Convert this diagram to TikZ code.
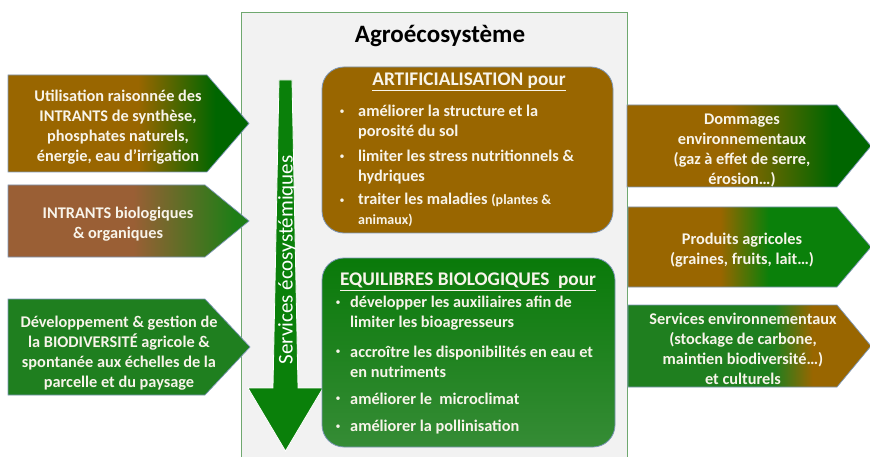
\documentclass[tikz,border=0pt]{standalone}
\usepackage{fontspec}
\setmainfont{Carlito}

\definecolor{brownA}{HTML}{996600}
\definecolor{siennaA}{HTML}{9A5F35}
\definecolor{greenD}{HTML}{006600}
\definecolor{greenM}{HTML}{0A800A}
\definecolor{greenL}{HTML}{1F7F1F}
\definecolor{greenT}{HTML}{1E7E16}
\definecolor{paleback}{HTML}{F2F2F2}
\definecolor{frameline}{HTML}{6FA86F}
\definecolor{edgeblue}{HTML}{7D97B8}
\definecolor{cream}{HTML}{F8F4EA}

% horizontal shadings: the path spans 25bp--75bp
\pgfdeclarehorizontalshading{inA}{100bp}{color(0bp)=(brownA); color(52bp)=(brownA); color(68bp)=(greenD); color(100bp)=(greenD)}
\pgfdeclarehorizontalshading{inB}{100bp}{color(0bp)=(siennaA); color(51bp)=(siennaA); color(72bp)=(greenT); color(100bp)=(greenT)}
\pgfdeclarehorizontalshading{outA}{100bp}{color(0bp)=(brownA); color(46bp)=(brownA); color(67bp)=(greenD); color(100bp)=(greenD)}
\pgfdeclarehorizontalshading{outB}{100bp}{color(0bp)=(brownA); color(44bp)=(brownA); color(54bp)=(greenM); color(100bp)=(greenM)}
\pgfdeclarehorizontalshading{outC}{100bp}{color(0bp)=(greenL); color(55bp)=(greenL); color(63bp)=(brownA); color(100bp)=(brownA)}

\begin{document}
\begin{tikzpicture}[x=1pt,y=-1pt,
  arrowedge/.style={draw=edgeblue,line width=0.7pt},
  boxtxt/.style={text=cream,font=\bfseries\fontsize{16.3}{20}\selectfont,align=center,inner sep=0pt},
  itemtxt/.style={text=cream,font=\bfseries\fontsize{16.3}{20}\selectfont,align=left,anchor=west,inner sep=0pt},
  dot/.style={text=cream,font=\fontsize{10}{10}\selectfont,inner sep=0pt},
  headtxt/.style={text=cream,font=\bfseries\fontsize{19.3}{22}\selectfont,inner sep=0pt}]
\useasboundingbox (0,0) rectangle (870,457);
\clip (0,0) rectangle (870,457);

% agroecosystem frame
\draw[frameline,fill=paleback,line width=0.9pt] (241,12) rectangle (627,470);
\node[font=\bfseries\fontsize{25}{28}\selectfont] (agro) at (440,36) {Agroécosystème};

% inputs
\shadedraw[arrowedge,shading=inA]
  (8,75) -- (207,75) -- (249,123.5) -- (207,172) -- (8,172) -- cycle;
\node[boxtxt] (in-synth) at (118,127)
  {Utilisation raisonnée des\\INTRANTS de synthèse,\\phosphates naturels,\\énergie, eau d’irrigation};
\shadedraw[arrowedge,shading=inB]
  (8,185) -- (205,185) -- (249,221) -- (205,257) -- (8,257) -- cycle;
\node[boxtxt] (in-bio) at (118,224) {INTRANTS biologiques\\\& organiques};
\draw[arrowedge,fill=greenL]
  (8,299) -- (205,299) -- (250,347) -- (205,395) -- (8,395) -- cycle;
\node[boxtxt] (in-biodiv) at (119,353)
  {Développement \& gestion de\\la BIODIVERSITÉ agricole \&\\spontanée aux échelles de la\\parcelle et du paysage};

% outputs
\shadedraw[arrowedge,shading=outA]
  (627,105) -- (837,105) -- (871,146) -- (837,187) -- (627,187) -- cycle;
\node[boxtxt] (out-dmg) at (742,150)
  {Dommages\\environnementaux\\(gaz à effet de serre,\\érosion…)};
\shadedraw[arrowedge,shading=outB]
  (628,207) -- (837,207) -- (871,247) -- (837,287) -- (628,287) -- cycle;
\node[boxtxt] (out-prod) at (742,250) {Produits agricoles\\(graines, fruits, lait…)};
\shadedraw[arrowedge,shading=outC]
  (628,305) -- (837,305) -- (871,346) -- (837,387) -- (628,387) -- cycle;
\node[boxtxt] (out-serv) at (743,349)
  {Services environnementaux\\(stockage de carbone,\\maintien biodiversité…)\\et culturels};

% ecosystem services arrow
\draw[white,fill=greenM,line width=0.8pt]
  (279,80) -- (292,80) -- (298,388) -- (323,388) -- (285.5,451)
  -- (248,388) -- (273,388) -- cycle;
\node[text=white,font=\fontsize{21}{24}\selectfont,rotate=90] (serv) at (287,260)
  {Services écosystémiques};

% artificialisation
\draw[edgeblue,fill=brownA,rounded corners=22pt,line width=0.8pt] (322,67) rectangle (613,233);
\node[headtxt] (art-title) at (469,82) {\underline{ARTIFICIALISATION pour}};
\node[dot] (art-b1) at (342,112) {\textbullet};
\node[itemtxt] (art-1) at (358,122) {améliorer la structure et la\\porosité du sol};
\node[dot] (art-b2) at (342,157) {\textbullet};
\node[itemtxt] (art-2) at (358,167) {limiter les stress nutritionnels \&\\hydriques};
\node[dot] (art-b3) at (342,201) {\textbullet};
\node[itemtxt] (art-3) at (358,210)
  {traiter les maladies {\fontsize{14}{18}\selectfont(plantes \&}\\{\fontsize{14}{18}\selectfont animaux)}};

% equilibres biologiques
\shadedraw[edgeblue,top color=greenM!95!black,bottom color=greenL!90!white,rounded corners=22pt,line width=0.8pt]
  (322,258) rectangle (615,447);
\node[headtxt] (eq-title) at (468,282) {\underline{EQUILIBRES BIOLOGIQUES\ \ pour}};
\node[dot] (eq-b1) at (338,303) {\textbullet};
\node[itemtxt] (eq-1) at (350,313) {développer les auxiliaires afin de\\limiter les bioagresseurs};
\node[dot] (eq-b2) at (338,352) {\textbullet};
\node[itemtxt] (eq-2) at (350,362) {accroître les disponibilités en eau et\\en nutriments};
\node[dot] (eq-b3) at (338,399) {\textbullet};
\node[itemtxt] (eq-3) at (350,399) {améliorer le\ \ microclimat};
\node[dot] (eq-b4) at (338,427) {\textbullet};
\node[itemtxt] (eq-4) at (350,427) {améliorer la pollinisation};
\end{tikzpicture}
\end{document}
